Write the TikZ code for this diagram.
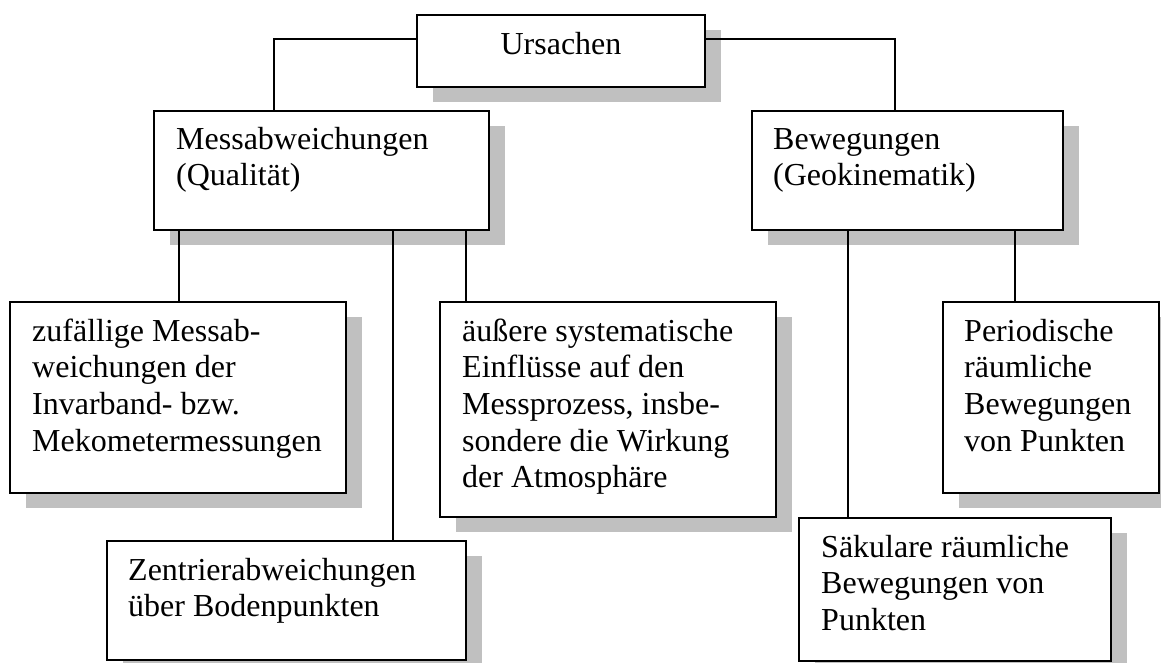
\documentclass[tikz,border=0pt]{standalone}
\usepackage{fontspec}
\setmainfont{Liberation Serif}
\usetikzlibrary{shadows}
\definecolor{shadegray}{RGB}{192,192,192}
\newcommand\mylines[1]{\begin{tabular}[t]{@{}l@{}}#1\end{tabular}}
\begin{document}
\begin{tikzpicture}[x=1pt,y=-1pt,
  box/.style={draw=black, line width=2.4pt, fill=white, rectangle, inner sep=0pt, outer sep=0pt,
    anchor=north west,
    drop shadow={shadow xshift=16pt, shadow yshift=-15pt, opacity=1, fill=shadegray}},
  txt/.style={inner sep=0pt, anchor=base west, font=\fontsize{32pt}{36.7pt}\selectfont},
  link/.style={line width=1.8pt, draw=black}]
\useasboundingbox (0,0) rectangle (1161,662);
\clip (0,0) rectangle (1161,662);
% boxes
\node[box, minimum width=288pt, minimum height=72pt]  (U)  at (417,15)  {};
\node[box, minimum width=335pt, minimum height=119pt] (M)  at (154,111) {};
\node[box, minimum width=311pt, minimum height=119pt] (B)  at (752,111) {};
\node[box, minimum width=336pt, minimum height=191pt] (Z1) at (10,302)  {};
\node[box, minimum width=359pt, minimum height=119pt] (Z2) at (107,541) {};
\node[box, minimum width=336pt, minimum height=215pt] (A)  at (440,302) {};
\node[box, minimum width=312pt, minimum height=143pt] (S)  at (799,518) {};
\node[box, minimum width=216pt, minimum height=191pt] (P)  at (943,302) {};
% texts
\node[txt, anchor=base] (Ut) at (561,54) {Ursachen};
\node[txt] (Mt)  at (176,149) {\mylines{Messabweichungen\\(Qualität)}};
\node[txt] (Bt)  at (773,149) {\mylines{Bewegungen\\(Geokinematik)}};
\node[txt] (Z1t) at (32,341)  {\mylines{zufällige Messab-\\weichungen der\\Invarband- bzw.\\Mekometermessungen}};
\node[txt] (Z2t) at (128,580) {\mylines{Zentrierabweichungen\\über Bodenpunkten}};
\node[txt] (At)  at (462,341) {\mylines{äußere systematische\\Einflüsse auf den\\Messprozess, insbe-\\sondere die Wirkung\\der Atmosphäre}};
\node[txt] (Pt)  at (964,341) {\mylines{Periodische\\räumliche\\Bewegungen\\von Punkten}};
\node[txt] (St)  at (821,557) {\mylines{Säkulare räumliche\\Bewegungen von\\Punkten}};
% connectors
\draw[link] ([yshift=-24pt]U.north west) -| ([xshift=120pt]M.north west);
\draw[link] ([yshift=-24pt]U.north east) -| ([xshift=143pt]B.north west);
\draw[link] ([xshift=25pt]M.south west) -- ([xshift=25pt]M.south west |- Z1.north);
\draw[link] ([xshift=239pt]M.south west) -- ([xshift=239pt]M.south west |- Z2.north);
\draw[link] ([xshift=312pt]M.south west) -- ([xshift=312pt]M.south west |- A.north);
\draw[link] ([xshift=96pt]B.south west) -- ([xshift=96pt]B.south west |- S.north);
\draw[link] ([xshift=263pt]B.south west) -- ([xshift=263pt]B.south west |- P.north);
\end{tikzpicture}
\end{document}
